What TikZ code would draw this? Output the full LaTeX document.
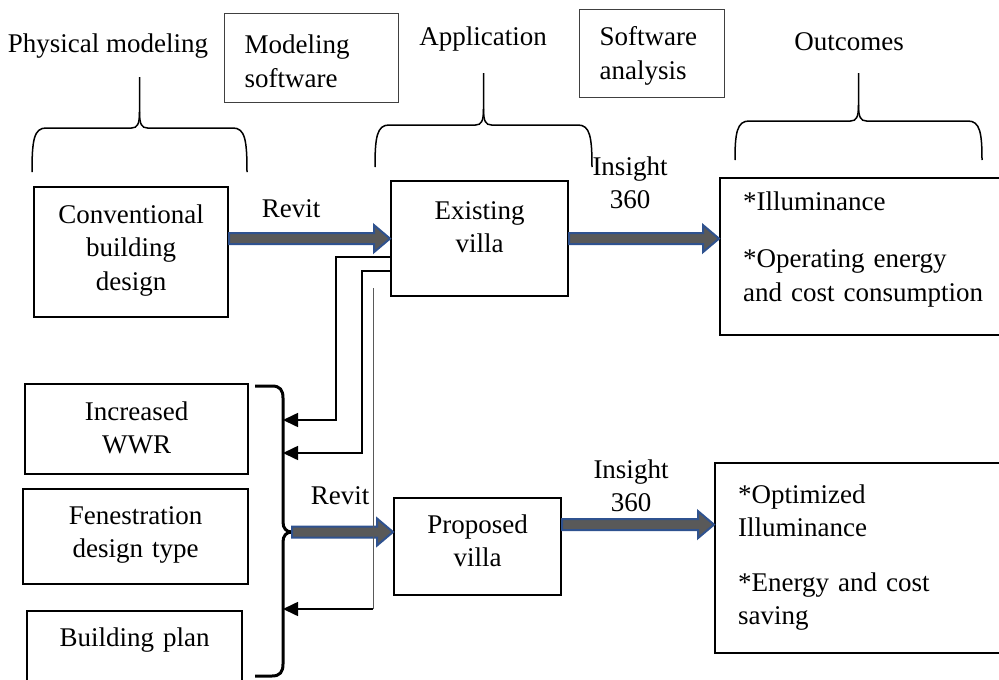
\documentclass[tikz,border=0pt]{standalone}
\usepackage{fontspec}
\setmainfont{Liberation Serif}
\usetikzlibrary{arrows.meta,calc}

\definecolor{arrgray}{HTML}{595959}
\definecolor{arrblue}{HTML}{2F528F}

% curly brace opening downwards: left x, right x, foot y, bar y, tip y
\newcommand{\topbrace}[5]{%
  \draw[brace] (#1,#3) .. controls (#1,#4+12) and (#1+2,#4) .. (#1+14,#4)
    -- ({(#1+#2)/2-8},#4) .. controls ({(#1+#2)/2-2},#4) and ({(#1+#2)/2},#4-4) .. ({(#1+#2)/2},#4-16)
    -- ({(#1+#2)/2},#5);
  \draw[brace] (#2,#3) .. controls (#2,#4+12) and (#2-2,#4) .. (#2-14,#4)
    -- ({(#1+#2)/2+8},#4) .. controls ({(#1+#2)/2+2},#4) and ({(#1+#2)/2},#4-4) .. ({(#1+#2)/2},#4-16);
}

\begin{document}
\begin{tikzpicture}[x=1pt, y=-1pt, font=\fontsize{27}{33.5}\selectfont,
box/.style={draw,line width=2.2pt,inner xsep=8pt,inner ysep=0pt,align=center,anchor=north west},
listbox/.style={box,inner xsep=23pt,align=left},
tagbox/.style={draw=black!75,line width=1.2pt,inner xsep=20pt,inner ysep=0pt,align=left,anchor=north west},
blockarr/.style={draw=arrblue,fill=arrgray,line width=2pt,
  to path={($(\tikztostart)+(0,-5.5)$) -- ($(\tikztotarget)+(-16,-5.5)$) -- ($(\tikztotarget)+(-16,-13.5)$)
    -- (\tikztotarget) -- ($(\tikztotarget)+(-16,13.5)$) -- ($(\tikztotarget)+(-16,5.5)$)
    -- ($(\tikztostart)+(0,5.5)$) -- cycle}},
fb/.style={line width=1.6pt,-{Triangle[length=15pt,width=14pt]}},
brace/.style={line width=1.5pt}]
\path[use as bounding box,clip] (0,0) rectangle (999,680);

% headings
\node[anchor=base] (phys) at (108,52) {Physical modeling};
\node[anchor=base] (app) at (483,45) {Application};
\node[anchor=base] (outc) at (849,50) {Outcomes};
\node[tagbox,text width=134pt,text height=40pt,text depth=49pt] (modsw) at (224,13) {Modeling\\software};
\node[tagbox,text width=105pt,text height=36pt,text depth=52pt] (swan) at (579,9) {Software\\analysis};

\topbrace{32}{247}{172}{128}{77}
\topbrace{375}{592}{167}{125}{73}
\topbrace{735}{982}{160}{121}{73}

% existing villa row
\node[box,text width=178pt,text height=36pt,text depth=94pt] (conv) at (33,186) {Conventional\\building\\design};
\node[box,text width=161pt,text height=38pt,text depth=77pt] (exist) at (390,180) {Existing\\villa};
\node[listbox,text width=254pt,text height=32pt,text depth=125pt] (outA) at (719,177) {*Illuminance\\[24pt]*Operating energy\\and cost consumption};
\node[anchor=base] (rv1) at (291,217) {Revit};
\node[anchor=base,text width=100pt,align=center] (ins1) at (630,175) {Insight\\360};
\path[blockarr] (conv.east |- exist.west) to (exist.west);
\path[blockarr] (exist.east) to (outA.west |- exist.east);

% retrofit options
\node[box,text width=207pt,text height=36pt,text depth=54pt] (wwr) at (24,383) {Increased\\WWR};
\node[box,text width=209pt,text height=35pt,text depth=60pt] (fen) at (22,488) {Fenestration\\design type};
\node[box,text width=199pt,text height=35pt,text depth=70pt] (plan) at (26,610) {Building plan};
\draw[line width=3pt] (255,386) -- (272,386) .. controls (280,386) and (283,390) .. (283,398)
  -- (283,522) .. controls (283,528) and (286,532) .. (292,532)
  .. controls (286,532) and (283,536) .. (283,542) -- (283,664)
  .. controls (283,672) and (280,676) .. (272,676) -- (255,676);
\coordinate (btip) at (292,532);
\coordinate (in1) at (283,420);
\coordinate (in2) at (283,453);
\coordinate (in3) at (283,609);
\coordinate (fb3) at (373,288);

% proposed villa row
\node[box,text width=151pt,text height=35pt,text depth=62pt] (prop) at (393,497) {Proposed\\villa};
\node[listbox,text width=254pt,text height=40pt,text depth=150pt] (outB) at (714,462) {*Optimized\\Illuminance\\[21pt]*Energy and cost\\saving};
\node[anchor=base] (rv2) at (340,504) {Revit};
\node[anchor=base,text width=100pt,align=center] (ins2) at (631,478) {Insight\\360};
\coordinate (pout) at ([yshift=22pt]prop.east);
\path[blockarr] (btip) to (prop.west |- btip);
\path[blockarr] (pout) to (outB.west |- pout);

% feedback lines
\draw[fb] (exist.west |- 0,257) -| (in1 -| 336,0) -- (in1);
\draw[fb] (exist.west |- 0,271) -| (in2 -| 362,0) -- (in2);
\draw[line width=1pt,black!65] (fb3) -- (in3 -| fb3);
\draw[fb] (in3 -| fb3) -- (in3);
\end{tikzpicture}
\end{document}
